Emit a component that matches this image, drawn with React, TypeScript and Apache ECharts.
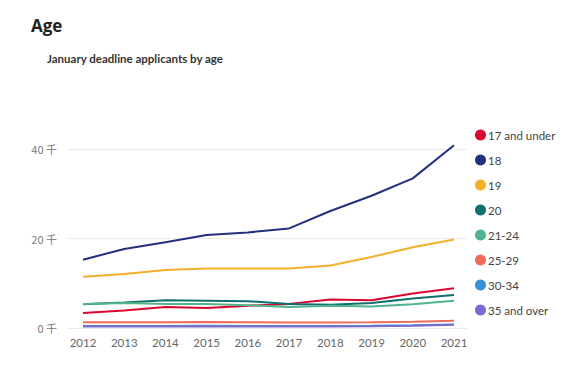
import React, { useEffect, useRef } from "react";
import * as echarts from "echarts";

const years = [2012, 2013, 2014, 2015, 2016, 2017, 2018, 2019, 2020, 2021];
const seriesNames = ["17 and under", "18", "19", "20", "21-24", "25-29", "30-34", "35 and over"];
const colors = ["#d9072f", "#22307f", "#f5b02a", "#11706d", "#52b48c", "#f06b5c", "#3b8ed8", "#7a6ccf"];
const under17 = [3350, 3900, 4700, 4500, 5000, 5400, 6400, 6200, 7700, 8900];
const age18 = [15300, 17700, 19200, 20800, 21400, 22300, 26200, 29600, 33500, 40900];
const age19 = [11500, 12100, 13000, 13300, 13300, 13300, 14000, 15900, 18100, 19800];
const age20 = [5300, 5700, 6200, 6100, 6000, 5400, 5200, 5600, 6600, 7400];
const age21to24 = [5400, 5600, 5400, 5400, 5100, 4700, 5000, 4800, 5300, 6100];
const age25to29 = [1300, 1300, 1300, 1350, 1300, 1250, 1250, 1300, 1400, 1650];
const age30to34 = [450, 450, 450, 500, 450, 450, 450, 500, 600, 800];
const age35over = [350, 350, 350, 400, 350, 350, 350, 400, 500, 700];
const yTicks = [0, 20000, 40000];

const allData = [under17, age18, age19, age20, age21to24, age25to29, age30to34, age35over];

export default function App() {
  const ref = useRef<HTMLDivElement>(null);
  useEffect(() => {
    if (!ref.current) return;
    const chart = echarts.init(ref.current, null, { renderer: "svg" });
    chart.setOption({
      animation: false,
      backgroundColor: "#ffffff",
      color: colors,
      title: [
        {
          text: "Age",
          left: 26,
          top: 12,
          textStyle: { fontFamily: "Open Sans", fontWeight: "bold", fontSize: 17, color: "#222" },
        },
        {
          text: "January deadline applicants by age",
          left: 42,
          top: 47,
          textStyle: { fontFamily: "Lato", fontWeight: "bold", fontSize: 11.5, color: "#333" },
        },
      ],
      legend: {
        orient: "vertical",
        left: 470,
        top: 124,
        icon: "circle",
        itemWidth: 11,
        itemHeight: 11,
        itemGap: 13,
        textStyle: { fontFamily: "Lato", fontSize: 11.5, color: "#444", padding: [0, 0, 0, -3] },
        data: seriesNames,
      },
      grid: { left: 68, right: 97, top: 127, bottom: 52 },
      xAxis: {
        type: "value",
        min: 2011.636,
        max: 2021.315,
        axisLine: { show: false },
        axisTick: { show: false },
        splitLine: { show: false },
        axisLabel: {
          customValues: years,
          color: "#666",
          fontFamily: "Lato",
          fontSize: 11.5,
          margin: 8,
          formatter: (v: number) => String(Math.round(v)),
        },
      },
      yAxis: {
        type: "value",
        min: 0,
        max: 45000,
        interval: 20000,
        axisLine: { show: false },
        axisTick: { show: false },
        splitLine: { lineStyle: { color: ["#ebebeb", "#ebebeb", "#ebebeb", "rgba(0,0,0,0)"], width: 1 } },
        axisLabel: {
          color: "#777",
          fontFamily: "Noto Sans CJK SC",
          fontSize: 11,
          margin: 11,
          formatter: (v: number) => (yTicks.includes(v) ? `${v / 1000} 千` : ""),
        },
      },
      series: seriesNames.map((name, i) => ({
        name,
        type: "line",
        showSymbol: false,
        symbol: "circle",
        lineStyle: { width: 2 },
        data: years.map((y, j) => [y, allData[i][j]]),
        z: 2 + i,
      })),
    });
    return () => chart.dispose();
  }, []);
  return <div ref={ref} style={{ width: 564, height: 380, position: "absolute", left: 0, top: 0 }} />;
}
